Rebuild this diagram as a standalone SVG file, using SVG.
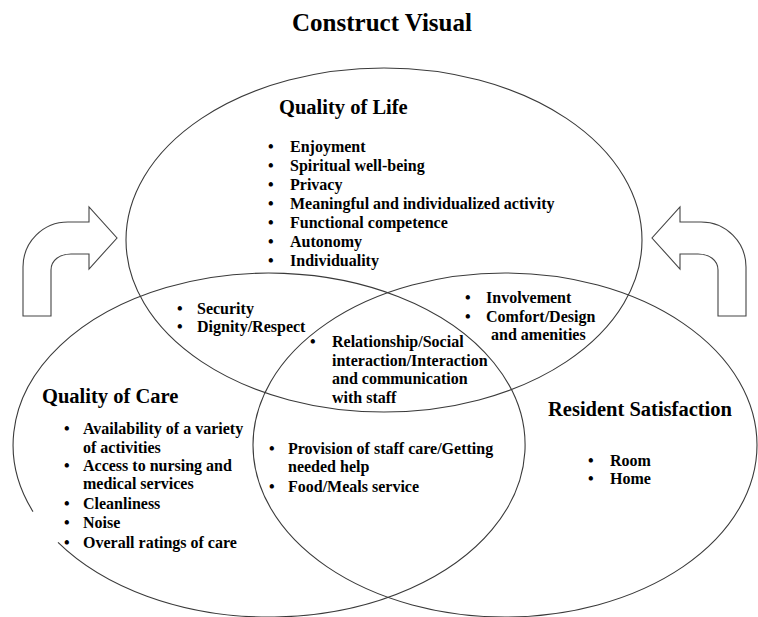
<svg xmlns="http://www.w3.org/2000/svg" width="758" height="617" viewBox="0 0 758 617">
<style>
.bg{fill:#ffffff}
.ell{fill:none;stroke:#3a3a3a;stroke-width:1.1}
.arr{fill:#ffffff;stroke:#444444;stroke-width:1.1;stroke-linejoin:miter}
text{font-family:"Liberation Serif","Times New Roman",serif;font-weight:bold;fill:#000000}
.title{font-size:25px}
.head{font-size:20.5px}
.item{font-size:16px}
</style>
<rect class="bg" x="0" y="0" width="758" height="617"/>
<text class="title" x="382" y="31" text-anchor="middle">Construct Visual</text>

<g id="quality-of-life">
<ellipse class="ell" cx="384" cy="240" rx="258" ry="172"/>
<text class="head" x="279" y="114">Quality of Life</text>
<g class="item">
<text class="item" x="268" y="152">•</text><text class="item" x="290" y="152">Enjoyment</text>
<text class="item" x="268" y="171">•</text><text class="item" x="290" y="171">Spiritual well-being</text>
<text class="item" x="268" y="190">•</text><text class="item" x="290" y="190">Privacy</text>
<text class="item" x="268" y="209">•</text><text class="item" x="290" y="209">Meaningful and individualized activity</text>
<text class="item" x="268" y="228">•</text><text class="item" x="290" y="228">Functional competence</text>
<text class="item" x="268" y="247">•</text><text class="item" x="290" y="247">Autonomy</text>
<text class="item" x="268" y="266">•</text><text class="item" x="290" y="266">Individuality</text>
</g>
</g>

<g id="quality-of-care">
<path class="ell" d="M58,542.4 A256,172 0 1 0 33,511.6"/>
<text class="head" x="42" y="403">Quality of Care</text>
<text class="item" x="64" y="434">•</text><text class="item" x="83" y="434">Availability of a variety</text>
<text class="item" x="83" y="452.5">of activities</text>
<text class="item" x="64" y="471">•</text><text class="item" x="83" y="471">Access to nursing and</text>
<text class="item" x="83" y="489">medical services</text>
<text class="item" x="64" y="509">•</text><text class="item" x="83" y="509">Cleanliness</text>
<text class="item" x="64" y="527.5">•</text><text class="item" x="83" y="527.5">Noise</text>
<text class="item" x="64" y="547.5">•</text><text class="item" x="83" y="547.5">Overall ratings of care</text>
</g>

<g id="resident-satisfaction">
<ellipse class="ell" cx="505" cy="445" rx="252" ry="172"/>
<text class="head" x="548" y="416">Resident Satisfaction</text>
<text class="item" x="588" y="466">•</text><text class="item" x="610" y="466">Room</text>
<text class="item" x="588" y="484">•</text><text class="item" x="610" y="484">Home</text>
</g>

<g id="life-care-overlap">
<text class="item" x="177" y="314">•</text><text class="item" x="197" y="314">Security</text>
<text class="item" x="177" y="332">•</text><text class="item" x="197" y="332">Dignity/Respect</text>
</g>

<g id="life-satisfaction-overlap">
<text class="item" x="465" y="302.7">•</text><text class="item" x="486" y="302.7">Involvement</text>
<text class="item" x="465" y="321.7">•</text><text class="item" x="486" y="321.7">Comfort/Design</text>
<text class="item" x="491" y="340">and amenities</text>
</g>

<g id="all-overlap">
<text class="item" x="310" y="347">•</text><text class="item" x="332" y="347">Relationship/Social</text>
<text class="item" x="332" y="365.5">interaction/Interaction</text>
<text class="item" x="332" y="384">and communication</text>
<text class="item" x="332" y="402.5">with staff</text>
</g>

<g id="care-satisfaction-overlap">
<text class="item" x="269" y="454">•</text><text class="item" x="288" y="454">Provision of staff care/Getting</text>
<text class="item" x="288" y="472">needed help</text>
<text class="item" x="269" y="492">•</text><text class="item" x="288" y="492">Food/Meals service</text>
</g>

<g id="connectors">
<path class="arr" d="M23,316 V267 C23,242 43,222 68,222 H89 V207 L117,238 L89,269 V254 H71 C60,254 51,260 51,270 V316 Z"/>
<path class="arr" d="M746,316 V267 C746,242 726,222 701,222 H680 V207 L652,238 L680,269 V254 H698 C709,254 718,260 718,270 V316 Z"/>
</g>
</svg>
